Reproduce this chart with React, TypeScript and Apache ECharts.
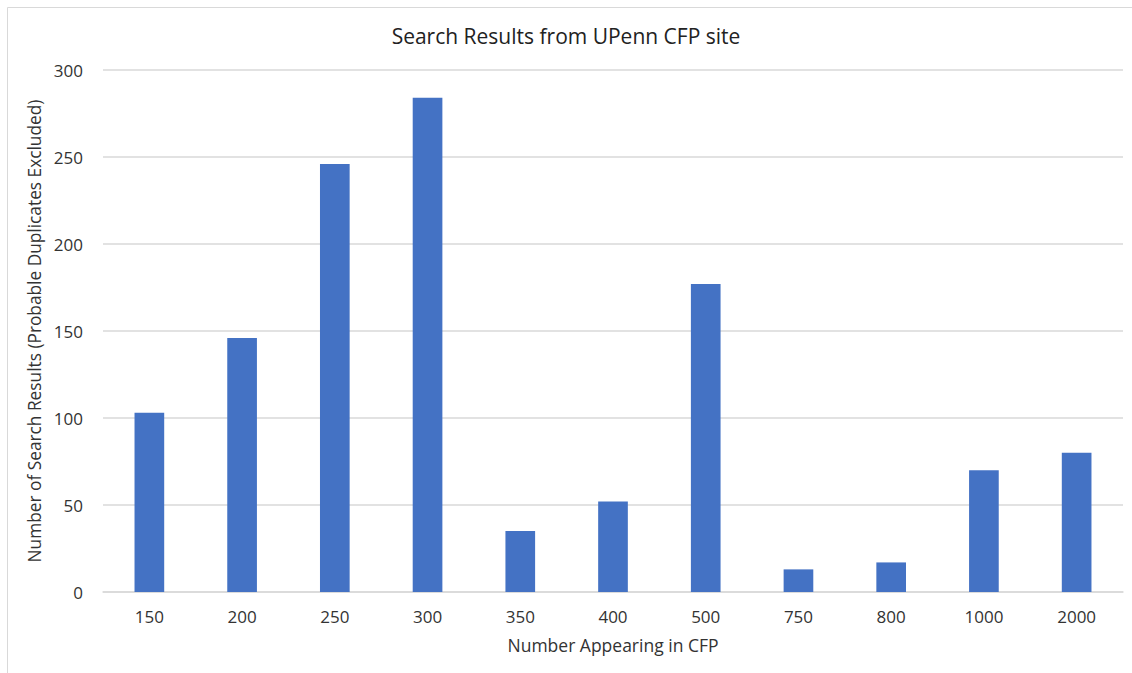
import React, { useEffect, useRef } from "react";
import * as echarts from "echarts";

const categories = ["150", "200", "250", "300", "350", "400", "500", "750", "800", "1000", "2000"];
const searchResults = [103, 146, 246, 284, 35, 52, 177, 13, 17, 70, 80];
const yTicks = { min: 0, max: 300, interval: 50 };

const titleText = "Search Results from UPenn CFP site";
const xName = "Number Appearing in CFP";
const yName = "Number of Search Results (Probable Duplicates Excluded)";

const FONT = "'Open Sans', 'Noto Sans', sans-serif";
const TEXT = "#333333";

export default function App() {
  const ref = useRef<HTMLDivElement>(null);
  useEffect(() => {
    document.body.style.margin = "0";
    const chart = echarts.init(ref.current!, null, { renderer: "svg" });
    chart.setOption({
      animation: false,
      backgroundColor: "#ffffff",
      textStyle: { fontFamily: FONT },
      title: {
        text: titleText,
        left: "center",
        top: 20,
        textStyle: { fontFamily: FONT, fontSize: 21, fontWeight: "normal", color: "#222222" },
      },
      graphic: [
        { type: "line", shape: { x1: 7.5, y1: 7.5, x2: 1132, y2: 7.5 }, style: { stroke: "#d9d9d9", lineWidth: 1 } },
        { type: "line", shape: { x1: 7.5, y1: 7.5, x2: 7.5, y2: 673 }, style: { stroke: "#d9d9d9", lineWidth: 1 } },
      ],
      grid: { left: 103, right: 9, top: 70, bottom: 81, containLabel: false },
      xAxis: {
        type: "category",
        data: categories,
        name: xName,
        nameLocation: "middle",
        nameGap: 44,
        nameTextStyle: { fontFamily: FONT, fontSize: 17.5, color: TEXT },
        axisLine: { lineStyle: { color: "#d9d9d9", width: 1.5 } },
        axisTick: { show: false },
        axisLabel: { fontFamily: FONT, fontSize: 17, color: TEXT, margin: 16 },
      },
      yAxis: {
        type: "value",
        min: yTicks.min,
        max: yTicks.max,
        interval: yTicks.interval,
        name: yName,
        nameLocation: "middle",
        nameGap: 53,
        nameTextStyle: { fontFamily: FONT, fontSize: 17.3, color: TEXT },
        axisLine: { show: false },
        axisTick: { show: false },
        axisLabel: { fontFamily: FONT, fontSize: 17, color: TEXT, margin: 20 },
        splitLine: { lineStyle: { color: "#d9d9d9", width: 1.5 } },
      },
      series: [
        {
          type: "bar",
          data: searchResults,
          barWidth: "32%",
          itemStyle: { color: "#4472c4" },
        },
      ],
    });
    return () => chart.dispose();
  }, []);
  return <div ref={ref} style={{ position: "absolute", left: 0, top: 0, width: 1132, height: 673 }} />;
}
